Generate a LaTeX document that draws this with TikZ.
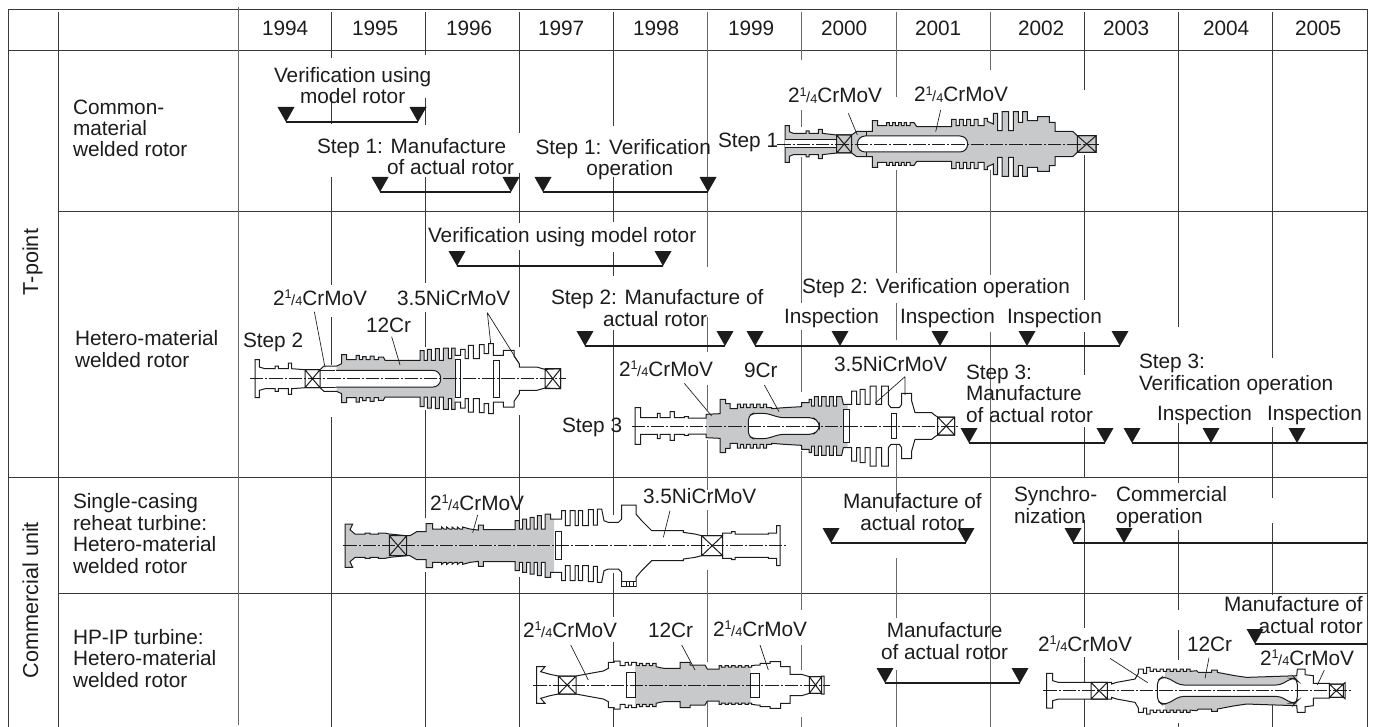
\documentclass[tikz,border=0pt]{standalone}
\usepackage{fontspec}
\setmainfont{Liberation Sans}
\definecolor{ink}{HTML}{1C1C1C}
\definecolor{rotgrey}{HTML}{C8C9CB}
\definecolor{gridc}{HTML}{3A3A3A}
\definecolor{gridl}{HTML}{6A6A6A}
\newcommand\txtfont{\fontsize{15.6}{16.1}\selectfont}
\newcommand\cmv{2\raisebox{0.3em}{\fontsize{9.5}{9.5}\selectfont 1}\kern-0.02em{\fontsize{11}{11}\selectfont /}\raisebox{-0.02em}{\fontsize{9.5}{9.5}\selectfont 4}CrMoV}
\tikzset{
  txt/.style={inner sep=0pt,outer sep=0pt,anchor=base west,align=left,text=ink,font=\txtfont},
  gridk/.style={draw=gridc,line width=0.75pt},
  gridg/.style={draw=gridl,line width=0.85pt},
  barline/.style={draw=ink,line width=1.5pt},
  leader/.style={draw=ink,line width=0.5pt},
  rotline/.style={draw=ink,line width=0.75pt,line join=miter},
  axisline/.style={draw=ink,line width=0.5pt,dash pattern=on 10pt off 1.5pt on 1.5pt off 1.5pt},
  inner/.style={rotline,fill=white}
}
\newcommand\rotorshape[3]{%
  \foreach \s in {1,-1}{%
    \begin{scope}[yscale=\s]
      \fill[white] #1 -- cycle;
      \begin{scope}
        \clip (#2,0) rectangle (#3,300);
        \fill[rotgrey] #1 -- cycle;
      \end{scope}
      \draw[rotline] #1;
    \end{scope}}}
\newcommand\brgbox[3]{\draw[rotline] (#1,-#3) rectangle (#2,#3) (#1,-#3) -- (#2,#3) (#1,#3) -- (#2,-#3);}
\newcommand\milestone[3]{\coordinate (#1) at (#2,#3);\fill[ink] (#2-8.5,#3-15) -- (#2+8.5,#3-15) -- (#2,#3) -- cycle;}
\newcommand\vsegs[3]{\foreach \a/\b in {#3}{\draw[#1] (#2,\a) -- (#2,\b);}}
\begin{document}
\begin{tikzpicture}[x=0.75pt,y=-0.75pt]
\useasboundingbox (0,0) rectangle (1376,727);
% ---------- table frame
\draw[gridk] (8.5,727) -- (8.5,9.5) -- (1367.5,9.5) -- (1367.5,727);
\draw[gridk] (8.5,50.5) -- (1367.5,50.5);
\draw[gridk] (58.5,211.5) -- (1367.5,211.5);
\draw[gridk] (8.5,477.5) -- (1367.5,477.5);
\draw[gridk] (58.5,593.5) -- (1367.5,593.5);
\draw[gridk] (58.5,12) -- (58.5,727);
\draw[gridg] (238.5,7) -- (238.5,725);
% ---------- year lines (interrupted by labels and rotors)
\vsegs{gridk}{331.5}{12/58,97/124,177/285,317/365,417/727}
\vsegs{gridk}{425.5}{12/55,98/125,177/283,312/347,410/518,572/727}
\vsegs{gridk}{519.5}{12/133,173/223,250/347,415/520,577/727}
\vsegs{gridk}{613.5}{12/126,177/222,252/276,330/515,573/617,642/727}
\vsegs{gridg}{707.5}{12/267,317/352,385/410,440/490,510/535,570/662,700/727}
\vsegs{gridg}{801.5}{12/60,110/127,157/303,330/392,451/610,645/670,717/727}
\vsegs{gridg}{896.5}{12/97,170/273,303/340,445/512,558/618,670/727}
\vsegs{gridg}{990.5}{12/70,170/275,332/727}
\vsegs{gridk}{1084.5}{12/90,155/300,332/375,427/478,520/628,657/727}
\vsegs{gridk}{1178.5}{12/327,423/483,530/610,630/660,723/727}
\vsegs{gridk}{1272.5}{12/358,427/498,523/595,705/727}
% ---------- time bars
\milestone{a1}{286}{122}\milestone{a2}{418}{122}
\draw[barline] (a1) -- (a2);
\milestone{b1}{380}{192}\milestone{b2}{511}{192}
\draw[barline] (b1) -- (b2);
\milestone{c1}{543}{192}\milestone{c2}{708}{192}
\draw[barline] (c1) -- (c2);
\milestone{d1}{457}{266}\milestone{d2}{663}{266}
\draw[barline] (d1) -- (d2);
\milestone{e1}{585}{346}\milestone{e2}{725}{346}
\draw[barline] (e1) -- (e2);
\milestone{f1}{755}{346}\milestone{f2}{840}{346}\milestone{f3}{940}{346}\milestone{f4}{1027}{346}\milestone{f5}{1120}{346}
\draw[barline] (f1) -- (f5);
\milestone{g1}{969}{443}\milestone{g2}{1105}{443}
\draw[barline] (g1) -- (g2);
\milestone{h1}{1132}{443}\milestone{h2}{1211}{443}\milestone{h3}{1297}{443}\coordinate (h4) at (1367,443);
\draw[barline] (h1) -- (h4);
\milestone{i1}{831}{543}\milestone{i2}{966}{543}
\draw[barline] (i1) -- (i2);
\milestone{j1}{1073}{543}\milestone{j2}{1124}{543}\coordinate (j3) at (1367,543);
\draw[barline] (j1) -- (j3);
\milestone{k1}{885}{683}\milestone{k2}{1020}{683}
\draw[barline] (k1) -- (k2);
\milestone{l1}{1255}{644}\coordinate (l2) at (1367,644);
\draw[barline] (l1) -- (l2);
% ---------- rotor, Step 1
\begin{scope}[shift={(700,144)},x=.25pt,y=.25pt]
\rotorshape{(255,0) -- (255,55) -- (268,55) -- (268,37) -- (280,32) -- (318,32) -- (318,39) -- (327,39) -- (327,32) -- (355,32) -- (355,44) -- (367,44) -- (367,32) -- (410,27) -- (455,27) -- (470,38) -- (517,38) -- (517,70) -- (533,70) -- (533,55) -- (560,55) -- (560,64) -- (568,64) -- (568,55) -- (578,55) -- (578,64) -- (586,64) -- (586,55) -- (596,55) -- (596,64) -- (604,64) -- (604,55) -- (612,55) -- (612,64) -- (620,64) -- (620,55) -- (630,55) -- (630,64) -- (642,64) -- (650,52) -- (755,52) -- (755,74) -- (768,74) -- (768,55) -- (778,55) -- (778,74) -- (790,74) -- (790,55) -- (800,55) -- (800,74) -- (812,74) -- (812,55) -- (822,55) -- (822,74) -- (834,74) -- (834,55) -- (852,55) -- (852,77) -- (862,77) -- (862,68) -- (880,60) -- (880,92) -- (893,92) -- (893,40) -- (906,40) -- (906,97) -- (926,97) -- (926,40) -- (940,40) -- (940,97) -- (955,97) -- (955,65) -- (968,65) -- (968,97) -- (982,97) -- (982,70) -- (1013,70) -- (1013,82) -- (1048,82) -- (1048,65) -- (1065,65) -- (1065,38) -- (1118,38) -- (1132,25) -- (1188,25) -- (1188,0)}{255}{1188}
\fill[white] (255,-12) rectangle (410,12);
\draw[rotline] (255,12) -- (410,12) (255,-12) -- (410,-12);
\draw[inner,rounded corners=5.8pt] (472,-24) rectangle (803,24);
\draw[rotline] (500,-38) -- (500,-24) (500,24) -- (500,38);
\brgbox{410}{455}{27}
\brgbox{1132}{1188}{25}
\draw[axisline] (232,0) -- (1197,0);
\end{scope}
% ---------- rotor, Step 2
\begin{scope}[shift={(220,378.7)},x=.25pt,y=.25pt]
\rotorshape{(105,0) -- (105,57) -- (118,57) -- (118,35) -- (135,30) -- (165,30) -- (165,38) -- (175,38) -- (175,30) -- (205,30) -- (205,47) -- (215,47) -- (215,30) -- (255,27) -- (300,27) -- (312,38) -- (350,38) -- (365,45) -- (365,72) -- (380,72) -- (380,57) -- (408,57) -- (408,70) -- (418,70) -- (418,57) -- (428,57) -- (428,66) -- (438,66) -- (438,57) -- (450,57) -- (450,68) -- (462,68) -- (462,57) -- (475,57) -- (475,65) -- (490,65) -- (495,55) -- (600,55) -- (600,84) -- (612,84) -- (612,55) -- (622,55) -- (622,88) -- (634,88) -- (634,55) -- (646,55) -- (646,90) -- (658,90) -- (658,55) -- (670,55) -- (670,92) -- (685,92) -- (685,60) -- (695,60) -- (695,92) -- (705,92) -- (705,70) -- (722,70) -- (722,88) -- (735,88) -- (735,60) -- (745,60) -- (745,100) -- (760,100) -- (760,60) -- (778,60) -- (778,102) -- (792,102) -- (792,75) -- (806,75) -- (806,105) -- (820,105) -- (820,70) -- (850,70) -- (850,85) -- (882,85) -- (882,68) -- (898,45) -- (898,35) -- (950,35) -- (975,28) -- (1022,30) -- (1022,0)}{350}{705}
\draw[inner,rounded corners=5.8pt] (340,25) -- (662,25) -- (662,-25) -- (340,-25);
\fill[white] (300,-26) rectangle (348,26);
\draw[rotline] (300,25) -- (345,25) (300,-25) -- (345,-25);
\draw[inner] (705,-57) rectangle (722,57);
\draw[inner] (820,-56) rectangle (837,56);
\brgbox{255}{300}{27}
\brgbox{975}{1022}{30}
\draw[axisline] (90,0) -- (1037,0);
\end{scope}
% ---------- rotor, Step 3
\begin{scope}[shift={(580,426)},x=.25pt,y=.25pt]
\rotorshape{(165,0) -- (165,55) -- (182,55) -- (182,25) -- (232,25) -- (232,38) -- (240,38) -- (240,25) -- (270,25) -- (270,43) -- (283,43) -- (283,25) -- (313,25) -- (313,28) -- (325,28) -- (325,24) -- (378,24) -- (378,35) -- (420,37) -- (420,80) -- (437,80) -- (437,67) -- (450,67) -- (450,52) -- (472,52) -- (472,66) -- (482,66) -- (482,55) -- (490,55) -- (490,66) -- (500,66) -- (500,55) -- (510,55) -- (510,66) -- (520,66) -- (520,55) -- (530,55) -- (530,66) -- (540,66) -- (540,55) -- (550,55) -- (550,66) -- (560,66) -- (560,55) -- (575,55) -- (575,52) -- (612,55) -- (665,58) -- (665,70) -- (687,70) -- (687,80) -- (695,80) -- (695,60) -- (703,60) -- (703,88) -- (715,88) -- (715,60) -- (725,60) -- (725,88) -- (738,88) -- (738,60) -- (748,60) -- (748,88) -- (760,88) -- (760,60) -- (770,60) -- (770,88) -- (785,88) -- (790,65) -- (815,65) -- (815,105) -- (830,105) -- (830,65) -- (840,65) -- (840,110) -- (855,110) -- (855,65) -- (870,65) -- (870,120) -- (888,120) -- (888,65) -- (905,65) -- (905,120) -- (925,120) -- (925,65) -- (933,55) -- (958,55) -- (965,65) -- (965,98) -- (995,98) -- (995,75) -- (1005,40) -- (1055,40) -- (1065,32) -- (1073,27) -- (1124,27) -- (1124,0)}{378}{803}
\draw[inner,rounded corners=3pt] (505,-30) -- (505,30) -- (520,38) -- (560,38) -- (600,25) -- (700,25) -- (718,10) -- (718,-10) -- (700,-25) -- (600,-25) -- (560,-38) -- (520,-38) -- cycle;
\draw[inner] (790,-50) rectangle (808,50);
\draw[inner] (935,-38) rectangle (950,38);
\brgbox{1073}{1124}{27}
\draw[axisline] (155,0) -- (1135,0);
\end{scope}
% ---------- rotor, single casing
\begin{scope}[shift={(330,545.7)},x=.25pt,y=.25pt]
\rotorshape{(45,0) -- (45,65) -- (68,65) -- (60,48) -- (75,35) -- (105,35) -- (105,38) -- (120,38) -- (120,35) -- (145,35) -- (145,38) -- (165,38) -- (178,35) -- (230,30) -- (240,30) -- (260,42) -- (288,42) -- (288,66) -- (308,66) -- (308,50) -- (335,50) -- (335,56) -- (342,50) -- (350,50) -- (350,56) -- (358,50) -- (366,50) -- (366,56) -- (374,50) -- (382,50) -- (382,56) -- (390,50) -- (398,50) -- (398,56) -- (420,50) -- (445,47) -- (445,62) -- (460,62) -- (460,48) -- (555,48) -- (555,75) -- (568,75) -- (568,50) -- (578,50) -- (578,80) -- (590,80) -- (590,50) -- (600,50) -- (600,85) -- (612,85) -- (612,50) -- (622,50) -- (622,90) -- (634,90) -- (634,50) -- (645,50) -- (645,95) -- (662,95) -- (662,80) -- (675,80) -- (695,80) -- (695,105) -- (706,105) -- (706,60) -- (720,60) -- (720,105) -- (735,105) -- (735,60) -- (745,60) -- (745,105) -- (758,105) -- (758,60) -- (775,60) -- (775,108) -- (790,108) -- (790,62) -- (802,62) -- (802,110) -- (815,110) -- (822,75) -- (835,70) -- (865,70) -- (875,80) -- (875,122) -- (918,122) -- (918,95) -- (935,75) -- (965,45) -- (1060,45) -- (1060,40) -- (1095,35) -- (1115,30) -- (1178,30) -- (1178,38) -- (1205,38) -- (1205,42) -- (1215,42) -- (1215,35) -- (1315,35) -- (1315,38) -- (1340,38) -- (1340,60) -- (1350,60) -- (1350,0)}{45}{672}
\fill[white] (876,-121) rectangle (917,-108);
\draw[rotline] (875,-108) -- (918,-108) (888,-108) -- (888,-122) (899,-108) -- (899,-122) (909,-108) -- (909,-122);
\draw[inner] (675,-42) rectangle (693,42);
\brgbox{178}{230}{30}
\brgbox{1115}{1178}{30}
\draw[axisline] (40,0) -- (1368,0);
\end{scope}
% ---------- rotor, HP-IP
\begin{scope}[shift={(520,685)},x=.25pt,y=.25pt]
\rotorshape{(50,0) -- (50,55) -- (75,55) -- (62,40) -- (90,32) -- (115,27) -- (168,27) -- (200,33) -- (250,42) -- (265,50) -- (265,68) -- (282,68) -- (282,72) -- (300,72) -- (300,58) -- (315,58) -- (315,68) -- (325,68) -- (325,60) -- (335,60) -- (335,68) -- (350,68) -- (350,58) -- (358,58) -- (358,65) -- (368,65) -- (368,58) -- (378,58) -- (378,65) -- (388,65) -- (388,58) -- (398,58) -- (398,65) -- (408,65) -- (408,55) -- (420,52) -- (432,50) -- (480,50) -- (480,68) -- (510,68) -- (510,60) -- (555,60) -- (562,48) -- (597,48) -- (597,58) -- (605,58) -- (605,54) -- (615,54) -- (615,58) -- (625,58) -- (625,54) -- (635,54) -- (635,58) -- (645,58) -- (645,54) -- (655,54) -- (655,58) -- (665,58) -- (665,54) -- (675,54) -- (675,58) -- (685,58) -- (685,54) -- (695,54) -- (695,58) -- (710,60) -- (720,60) -- (720,65) -- (750,65) -- (750,70) -- (782,70) -- (782,55) -- (810,55) -- (810,32) -- (845,32) -- (868,25) -- (905,25) -- (905,27) -- (912,27) -- (912,0)}{345}{692}
\draw[inner] (318,-38) rectangle (345,38);
\draw[inner] (692,-36) rectangle (718,36);
\brgbox{115}{168}{27}
\brgbox{868}{905}{25}
\draw[axisline] (40,0) -- (930,0);
\end{scope}
% ---------- rotor, lower right
\begin{scope}[shift={(1010,690.7)},x=.25pt,y=.25pt]
\rotorshape{(110,0) -- (110,52) -- (128,52) -- (128,30) -- (145,25) -- (243,25) -- (292,25) -- (305,25) -- (305,20) -- (320,25) -- (375,35) -- (385,52) -- (385,65) -- (400,65) -- (400,52) -- (410,52) -- (410,70) -- (420,70) -- (420,58) -- (430,58) -- (430,65) -- (440,65) -- (440,58) -- (450,58) -- (450,65) -- (460,65) -- (460,58) -- (470,58) -- (470,65) -- (480,65) -- (480,58) -- (490,58) -- (490,65) -- (500,65) -- (500,58) -- (510,58) -- (510,65) -- (520,65) -- (520,58) -- (530,58) -- (530,65) -- (540,65) -- (540,58) -- (560,60) -- (565,55) -- (605,55) -- (605,62) -- (622,62) -- (622,55) -- (675,45) -- (710,40) -- (860,45) -- (862,65) -- (885,65) -- (885,48) -- (910,45) -- (910,22) -- (958,22) -- (958,20) -- (1000,20) -- (1005,24) -- (1005,0)}{465}{862}
\draw[inner,rounded corners=3pt] (442,-30) -- (442,30) -- (455,40) -- (470,40) -- (510,17) -- (810,17) -- (845,37) -- (855,37) -- (862,30) -- (862,-30) -- (855,-37) -- (845,-37) -- (810,-17) -- (510,-17) -- (470,-40) -- (455,-40) -- cycle;
\brgbox{243}{292}{25}
\brgbox{958}{1000}{20}
\draw[axisline] (100,0) -- (1022,0);
\end{scope}
% ---------- leader lines
\begin{scope}[shift={(700,70)},x=.25pt,y=-.25pt]
\draw[leader] (445,130) -- (472,195) (722,120) -- (707,185);
\end{scope}
\begin{scope}[shift={(220,280)},x=.25pt,y=-.25pt]
\draw[leader] (283,95) -- (315,262) (515,170) -- (540,255) (802,98) -- (812,190) (802,98) -- (897,250);
\end{scope}
\begin{scope}[shift={(580,320)},x=.25pt,y=-.25pt]
\draw[leader] (313,190) -- (395,288) (553,195) -- (597,275) (975,170) -- (885,250) (975,170) -- (975,225);
\end{scope}
\begin{scope}[shift={(330,480)},x=.25pt,y=-.25pt]
\draw[leader] (443,105) -- (428,158) (1020,92) -- (1000,172);
\end{scope}
\begin{scope}[shift={(520,610)},x=.25pt,y=-.25pt]
\draw[leader] (152,105) -- (205,210) (485,105) -- (525,180) (720,105) -- (745,180);
\end{scope}
\begin{scope}[shift={(1010,610)},x=.25pt,y=-.25pt]
\draw[leader] (300,145) -- (413,218) (597,143) -- (585,205) (943,180) -- (922,225);
\end{scope}
% ---------- header
\node[txt] (y94) at (262,36) {1994};
\node[txt] (y95) at (352,36) {1995};
\node[txt] (y96) at (446,36) {1996};
\node[txt] (y97) at (538,36) {1997};
\node[txt] (y98) at (633,36) {1998};
\node[txt] (y99) at (728,36) {1999};
\node[txt] (y00) at (821,36) {2000};
\node[txt] (y01) at (915,36) {2001};
\node[txt] (y02) at (1018,36) {2002};
\node[txt] (y03) at (1103,36) {2003};
\node[txt] (y04) at (1203,36) {2004};
\node[txt] (y05) at (1295,36) {2005};
% ---------- row headers
\node[txt,anchor=base,rotate=90,font=\fontsize{16.2}{17}\selectfont] (tp) at (38,262) {T-point};
\node[txt,anchor=base,rotate=90,font=\fontsize{16.2}{17}\selectfont] (cu) at (38,600) {Commercial unit};
\node[txt] (r1) at (73,157) {Common-\\material\\welded rotor};
\node[txt] (r2) at (75,367) {Hetero-material\\welded rotor};
\node[txt] (r3) at (73,573) {Single-casing\\reheat turbine:\\Hetero-material\\welded rotor};
\node[txt] (r4) at (73,687) {HP-IP turbine:\\Hetero-material\\welded rotor};
% ---------- row 1 labels
\node[txt,align=center] (t1) at (274,104) {Verification using\\model rotor};
\node[txt] (t2) at (317,175) {Step 1: Manufacture\\\hspace*{52.5pt}of actual rotor};
\node[txt,align=center] (t3) at (535.5,176) {Step 1: Verification\\\hspace*{10pt}operation};
\node[txt] (t4) at (718,148) {Step 1};
\node[txt] (t5) at (788,103) {\cmv};
\node[txt] (t6) at (914,102) {\cmv};
% ---------- row 2 labels
\node[txt] (u1) at (428,243) {Verification using model rotor};
\node[txt] (u2) at (273,305) {\cmv};
\node[txt] (u3) at (397,305) {3.5NiCrMoV};
\node[txt] (u4) at (366,332) {12Cr};
\node[txt] (u5) at (243,347) {Step 2};
\node[txt] (u6) at (551,326) {Step 2: Manufacture of\\\hspace*{39pt}actual rotor};
\node[txt] (u7) at (802,293) {Step 2: Verification operation};
\node[txt] (u8) at (784,323) {Inspection};
\node[txt] (u9) at (900,323) {Inspection};
\node[txt] (u10) at (1007,323) {Inspection};
\node[txt] (u11) at (619,376) {\cmv};
\node[txt] (u12) at (744,377) {9Cr};
\node[txt] (u13) at (834,371) {3.5NiCrMoV};
\node[txt] (u14) at (562,432) {Step 3};
\node[txt] (u15) at (966,422) {Step 3:\\Manufacture\\of actual rotor};
\node[txt] (u16) at (1139,390) {Step 3:\\Verification operation};
\node[txt] (u17) at (1157,420) {Inspection};
\node[txt] (u18) at (1267,420) {Inspection};
% ---------- row 3 labels
\node[txt] (v1) at (430,510) {\cmv};
\node[txt] (v2) at (643,503) {3.5NiCrMoV};
\node[txt,align=center] (v3) at (843,530) {Manufacture of\\actual rotor};
\node[txt] (v4) at (1014,523) {Synchro-\\nization};
\node[txt] (v5) at (1116,523) {Commercial\\operation};
% ---------- row 4 labels
\node[txt] (w1) at (523,637) {\cmv};
\node[txt] (w2) at (648,637) {12Cr};
\node[txt] (w3) at (713,636) {\cmv};
\node[txt,align=center] (w4) at (881,659) {Manufacture\\of actual rotor};
\node[txt] (w5) at (1038,651) {\cmv};
\node[txt] (w6) at (1187,651) {12Cr};
\node[txt] (w7) at (1260,665) {\cmv};
\node[txt,align=right] (w8) at (1224,633) {Manufacture of\\actual rotor};
\end{tikzpicture}
\end{document}
